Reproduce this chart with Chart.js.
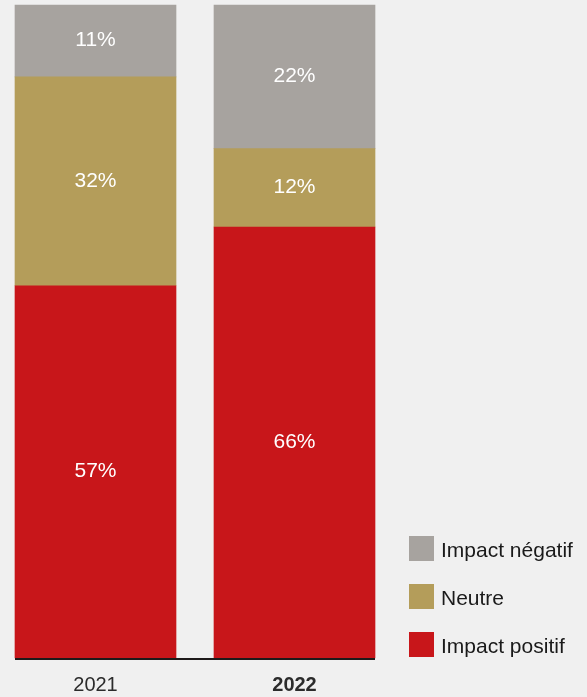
<!DOCTYPE html>
<html>
<head>
<meta charset="utf-8">
<script src="https://cdn.jsdelivr.net/npm/chart.js@4.4.0/dist/chart.umd.min.js"></script>
<style>
html,body{margin:0;padding:0;background:#f0f0f0;}
#wrap{width:587px;height:697px;position:relative;}
</style>
</head>
<body>
<div id="wrap"><canvas id="c" width="587" height="697"></canvas></div>
<script>
const categories = ['2021', '2022'];
const seriesNames = ['Impact positif', 'Neutre', 'Impact négatif'];
const impactPositif = [57, 66];
const neutre = [32, 12];
const impactNegatif = [11, 22];
const colors = ['#c8161a', '#b49d5a', '#a7a39f'];

const FONT = "'Liberation Sans', Arial, sans-serif";

const extras = {
  id: 'extras',
  afterDatasetsDraw(chart) {
    const ctx = chart.ctx;
    ctx.save();
    // data labels
    ctx.fillStyle = '#ffffff';
    ctx.font = '21px ' + FONT;
    ctx.textAlign = 'center';
    ctx.textBaseline = 'alphabetic';
    chart.data.datasets.forEach((ds, di) => {
      const meta = chart.getDatasetMeta(di);
      meta.data.forEach((el, i) => {
        const cy = (el.y + el.base) / 2;
        ctx.fillText(ds.data[i] + '%', el.x, cy + 5.5);
      });
    });
    // baseline axis line
    const m0 = chart.getDatasetMeta(0).data;
    const left = m0[0].x - m0[0].width / 2;
    const right = m0[m0.length - 1].x + m0[m0.length - 1].width / 2;
    ctx.fillStyle = '#1e1a1a';
    ctx.fillRect(left, chart.chartArea.bottom, right - left, 2);
    // legend (top to bottom: reverse dataset order)
    ctx.textAlign = 'left';
    ctx.font = '21px ' + FONT;
    const n = chart.data.datasets.length;
    for (let k = 0; k < n; k++) {
      const ds = chart.data.datasets[n - 1 - k];
      const y0 = 536 + k * 48;
      ctx.fillStyle = ds.backgroundColor;
      ctx.fillRect(409, y0, 25, 25);
      ctx.fillStyle = '#1a1a1a';
      ctx.fillText(ds.label, 441, y0 + 21);
    }
    ctx.restore();
  }
};

new Chart(document.getElementById('c'), {
  type: 'bar',
  data: {
    labels: categories,
    datasets: [
      { label: seriesNames[0], data: impactPositif, backgroundColor: colors[0] },
      { label: seriesNames[1], data: neutre, backgroundColor: colors[1] },
      { label: seriesNames[2], data: impactNegatif, backgroundColor: colors[2] }
    ].map(d => Object.assign(d, { barThickness: 161, borderWidth: 0, clip: false }))
  },
  options: {
    responsive: false,
    animation: false,
    layout: { padding: { left: 95.5, right: 292.5, top: 5, bottom: 0 } },
    plugins: { legend: { display: false }, tooltip: { enabled: false } },
    scales: {
      x: {
        stacked: true,
        offset: false,
        grid: { display: false, drawTicks: false },
        border: { display: false },
        afterFit: s => { s.height = 39; },
        ticks: {
          padding: 15,
          color: '#2b2b2b',
          font: ctx => ({ family: FONT, size: 20, weight: ctx.index === 1 ? 'bold' : 'normal' })
        }
      },
      y: {
        stacked: true,
        display: false,
        min: 0,
        max: 100
      }
    }
  },
  plugins: [extras]
});
</script>
</body>
</html>
